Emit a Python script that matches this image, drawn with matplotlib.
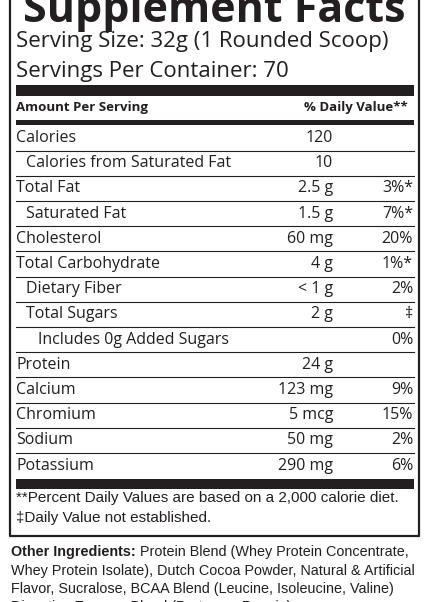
import matplotlib

matplotlib.use("Agg")

import matplotlib.pyplot as plt

names = ["Calories", "Calories from Saturated Fat", "Total Fat", "Saturated Fat", "Cholesterol",
         "Total Carbohydrate", "Dietary Fiber", "Total Sugars", "Includes 0g Added Sugars",
         "Protein", "Calcium", "Chromium", "Sodium", "Potassium"]
indents = [0, 1, 0, 1, 0, 0, 1, 1, 2, 0, 0, 0, 0, 0]
amounts = ["120", "10", "2.5 g", "1.5 g", "60 mg", "4 g", "< 1 g", "2 g", "", "24 g",
           "123 mg", "5 mcg", "50 mg", "290 mg"]
daily = ["", "", "3%*", "7%*", "20%", "1%*", "2%", "‡", "0%", "", "9%", "15%", "2%", "6%"]

ingredients = [
    ("Other Ingredients:", " Protein Blend (Whey Protein Concentrate,"),
    ("", "Whey Protein Isolate), Dutch Cocoa Powder, Natural & Artificial"),
    ("", "Flavor, Sucralose, BCAA Blend (Leucine, Isoleucine, Valine)"),
    ("", "Digestive Enzyme Blend (Protease, Papain)"),
]

FONT = "Open Sans"
FOOT = "Liberation Sans"
INK = "#231f20"

fig = plt.figure(figsize=(4.3, 6.02), dpi=100)
ax = fig.add_axes([0, 0, 1, 1])
ax.set_xlim(0, 430)
ax.set_ylim(602, 0)
ax.axis("off")

L, R = 10, 419
ax.plot([L, L, R, R], [-5, 536, 536, -5], color=INK, lw=1.6, solid_capstyle="butt")

ax.text(214, 11, "Supplement Facts", ha="center", va="center", fontsize=31, fontweight="bold",
        family=FONT, color=INK)
ax.text(16, 42, "Serving Size: 32g (1 Rounded Scoop)", ha="left", va="center", fontsize=16,
        family=FONT, color=INK)
ax.text(16, 72, "Servings Per Container: 70", ha="left", va="center", fontsize=16,
        family=FONT, color=INK)
ax.fill_between([16, 414], 85, 96, color=INK, lw=0)
ax.text(16, 108, "Amount Per Serving", ha="left", va="center", fontsize=9.5, fontweight="bold",
        family=FONT, color=INK)
ax.text(408, 108, "% Daily Value**", ha="right", va="center", fontsize=9.5, fontweight="bold",
        family=FONT, color=INK)
ax.fill_between([16, 414], 120, 125, color=INK, lw=0)

y0, step = 138, 25.2
for i, (n, ind, a, d) in enumerate(zip(names, indents, amounts, daily)):
    y = y0 + i * step
    ax.text(16 + 10 * ind + (2 if ind == 2 else 0), y, n, ha="left", va="center", fontsize=11.5,
            family=FONT, color=INK)
    ax.text(333, y, a, ha="right", va="center", fontsize=11.5, family=FONT, color=INK)
    ax.text(413, y, d, ha="right", va="center", fontsize=11.5, family=FONT, color=INK)
    if i < len(names) - 1:
        ax.plot([16, 414], [y + step / 2, y + step / 2], color=INK, lw=0.8)

ax.fill_between([16, 414], 479, 489, color=INK, lw=0)
ax.text(16, 498, "**Percent Daily Values are based on a 2,000 calorie diet.", ha="left", va="center",
        fontsize=11, family=FOOT, color=INK)
ax.text(16, 518, "‡Daily Value not established.", ha="left", va="center",
        fontsize=11, family=FOOT, color=INK)

fig.canvas.draw()
for i, (b, t) in enumerate(ingredients):
    y = 552 + i * 18.5
    x = 11
    if b:
        tb = ax.text(x, y, b, ha="left", va="center", fontsize=10.4, fontweight="bold",
                     family=FOOT, color=INK)
        bb = tb.get_window_extent(renderer=fig.canvas.get_renderer())
        x = ax.transData.inverted().transform((bb.x1, bb.y0))[0]
    ax.text(x, y, t, ha="left", va="center", fontsize=10.4, family=FOOT, color=INK)

fig.savefig("out.png", dpi=100)
